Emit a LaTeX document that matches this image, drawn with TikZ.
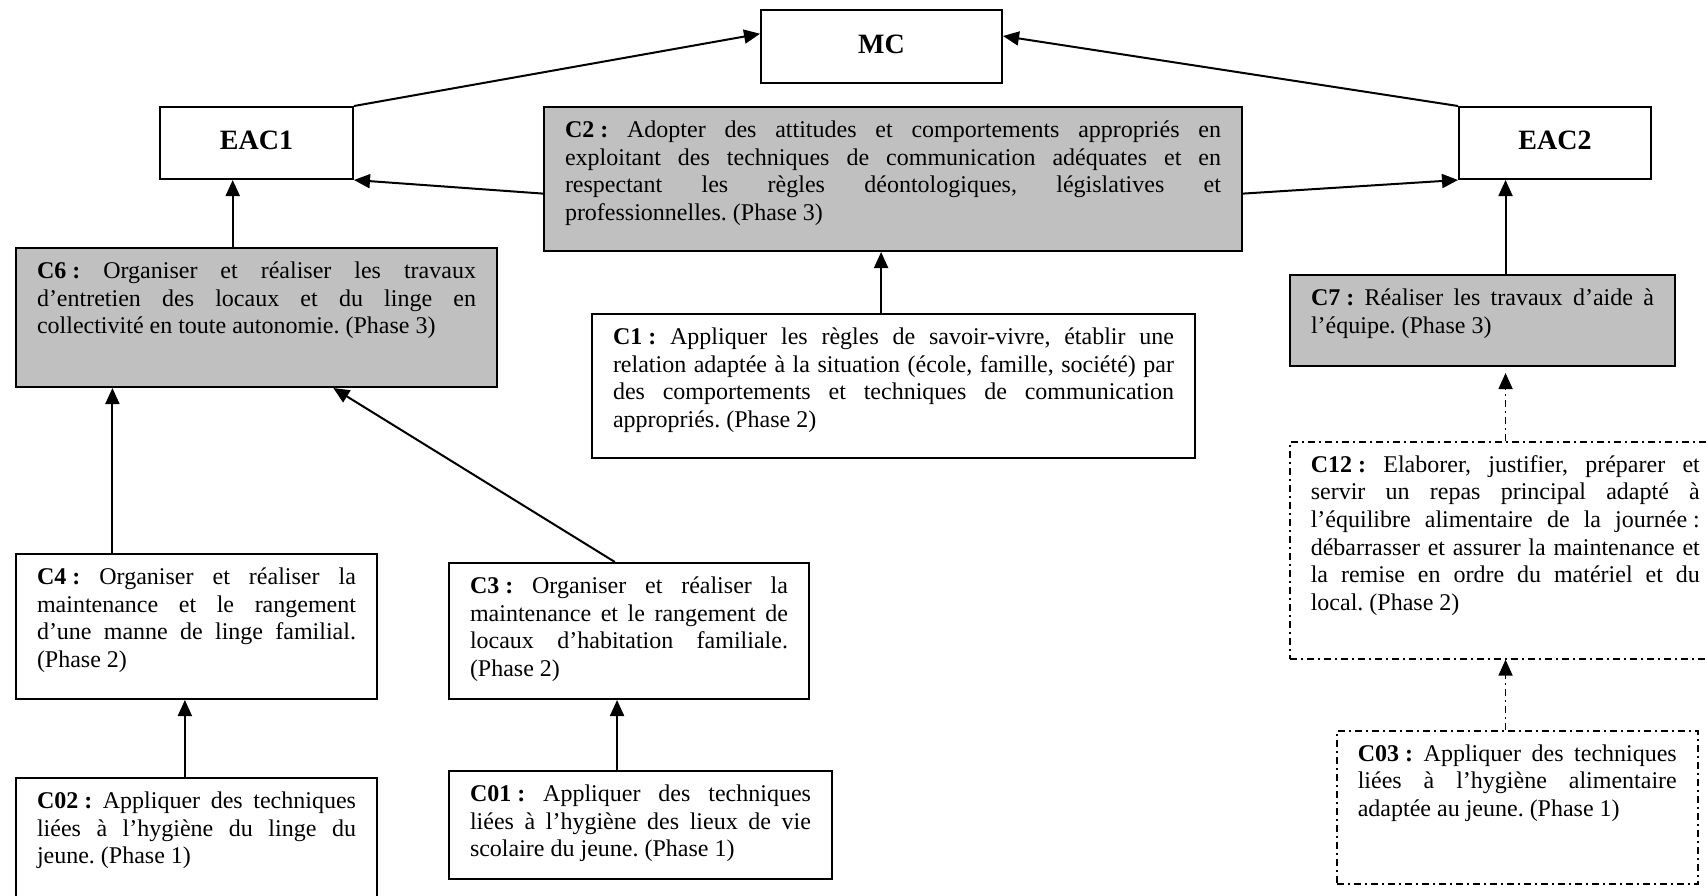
\documentclass[tikz,border=0pt]{standalone}
\usepackage{fontspec}
\setmainfont{Liberation Serif}
\usetikzlibrary{arrows.meta,calc}
\definecolor{boxgray}{RGB}{192,192,192}
\hbadness=10000
\hfuzz=60pt
\vbadness=10000
\vfuzz=60pt
\hyphenpenalty=10000
\exhyphenpenalty=10000
\frenchspacing

% bold label with a fixed space before the colon
\newcommand\lbl[1]{\textbf{#1\kern0.25em:}}

% Text box: style, name, x1, y1, x2, y2 (pixel grid, y downward), text
\newcommand\txtbox[7]{%
  \node[#1, anchor=north west, inner xsep=10.5pt, inner ysep=0pt] (#2) at (#3,#4)
    {\parbox[t][\dimexpr(#6pt-#4pt)/2\relax][t]{\dimexpr(#5pt-#3pt)/2-21pt\relax}%
      {\fontsize{12}{13.8}\selectfont\tolerance=10000\emergencystretch=0pt
       \vspace*{5.6pt}\strut #7}};}

\tikzset{
  plain/.style={draw, line width=1pt, fill=white},
  shaded/.style={draw, line width=1pt, fill=boxgray},
  dashdot/.style={dash pattern=on 3.5pt off 2pt on 1pt off 2pt},
  dotted box/.style={draw, line width=0.8pt, dashdot},
  titlebox/.style={draw, line width=1pt, inner sep=0pt,
    font=\fontsize{14}{16.8}\selectfont\bfseries,
    text height=9.3pt, text depth=2.6pt, anchor=north west},
  link/.style={line width=1pt, -{Triangle[length=8pt,width=7pt]}},
  dlink/.style={link, line width=0.8pt, dashdot},
}

\begin{document}
\begin{tikzpicture}[x=0.5pt, y=-0.5pt]
\fill[white] (0,0) rectangle (1708,895);
\useasboundingbox (0,0) rectangle (1708,895);

% top level
\node[titlebox, minimum width=120.5pt, minimum height=36.5pt] (MC) at (760,9) {MC};
\node[titlebox, minimum width=96.5pt, minimum height=36pt] (EAC1) at (159,106) {EAC1};
\node[titlebox, minimum width=96pt, minimum height=36pt] (EAC2) at (1458,106) {EAC2};

% competences
\txtbox{shaded}{C2}{543}{106}{1241}{250}{\lbl{C2} Adopter des attitudes et comportements appropriés en\linebreak
exploitant des techniques de communication adéquates et en\linebreak
respectant les règles déontologiques, législatives et\linebreak
professionnelles. (Phase 3)}

\txtbox{shaded}{C6}{15}{247}{496}{386}{\lbl{C6} Organiser et réaliser les travaux\linebreak
d’entretien des locaux et du linge en\linebreak
collectivité en toute autonomie. (Phase 3)}

\txtbox{plain}{C1}{591}{313}{1194}{457}{\lbl{C1} Appliquer les règles de savoir-vivre, établir une\linebreak
relation adaptée à la situation (école, famille, société) par\linebreak
des comportements et techniques de communication\linebreak
appropriés. (Phase 2)}

\txtbox{shaded}{C7}{1289}{274}{1674}{365}{\lbl{C7} Réaliser les travaux d’aide à\linebreak
l’équipe. (Phase 3)}

\txtbox{dotted box}{C12}{1289}{441}{1720}{658}{\lbl{C12} Elaborer, justifier, préparer et\linebreak
servir un repas principal adapté à\linebreak
l’équilibre alimentaire de la journée\kern0.25em:\linebreak
débarrasser et assurer la maintenance et\linebreak
la remise en ordre du matériel et du\linebreak
local. (Phase 2)}

\txtbox{plain}{C4}{15}{553}{376}{698}{\lbl{C4} Organiser et réaliser la\linebreak
maintenance et le rangement\linebreak
d’une manne de linge familial.\linebreak
(Phase 2)}

\txtbox{plain}{C3}{448}{562}{808}{698}{\lbl{C3} Organiser et réaliser la\linebreak
maintenance et le rangement de\linebreak
locaux d’habitation familiale.\linebreak
(Phase 2)}

\txtbox{plain}{C02}{15}{777}{376}{930}{\lbl{C02} Appliquer des techniques\linebreak
liées à l’hygiène du linge du\linebreak
jeune. (Phase 1)}

\txtbox{plain}{C01}{448}{770}{831}{878}{\lbl{C01} Appliquer des techniques\linebreak
liées à l’hygiène des lieux de vie\linebreak
scolaire du jeune. (Phase 1)}

\txtbox{dotted box}{C03}{1336}{730}{1697}{883}{\lbl{C03} Appliquer des techniques\linebreak
liées à l’hygiène alimentaire\linebreak
adaptée au jeune. (Phase 1)}

% entry points on the boxes
\coordinate (e1in) at ($(EAC1.south west)!0.378!(EAC1.south east)$);
\coordinate (e2in) at ($(EAC2.south west)!0.245!(EAC2.south east)$);
\coordinate (c2in) at ($(C2.south west)!0.483!(C2.south east)$);
\coordinate (c6a) at ($(C6.south west)!0.2017!(C6.south east)$);
\coordinate (c6b) at ($(C6.south west)!0.659!(C6.south east)$);
\coordinate (c3out) at ($(C3.north west)!0.461!(C3.north east)$);
\coordinate (c4in) at ($(C4.south west)!0.468!(C4.south east)$);
\coordinate (c3in) at ($(C3.south west)!0.467!(C3.south east)$);
\coordinate (c7in) at ($(e2in |- C7.south)+(0,6)$);

% connectors
\draw[link] (EAC1.north east) -- ($(MC.north west)!0.33!(MC.south west)$);
\draw[link] (EAC2.north west) -- ($(MC.north east)!0.36!(MC.south east)$);
\draw[link] ($(C2.north west)!0.6!(C2.south west)$) -- (EAC1.south east);
\draw[link] ($(C2.north east)!0.6!(C2.south east)$) -- (EAC2.south west);
\draw[link] (e1in |- C6.north) -- (e1in);
\draw[link] (c2in |- C1.north) -- (c2in);
\draw[link] (e2in |- C7.north) -- (e2in);
\draw[dlink] (e2in |- C12.north) -- (c7in);
\draw[dlink] (e2in |- C03.north) -- (e2in |- C12.south);
\draw[link] (c6a |- C4.north) -- (c6a);
\draw[link] (c3out) -- (c6b);
\draw[link] (c4in |- C02.north) -- (c4in);
\draw[link] (c3in |- C01.north) -- (c3in);
\end{tikzpicture}
\end{document}
